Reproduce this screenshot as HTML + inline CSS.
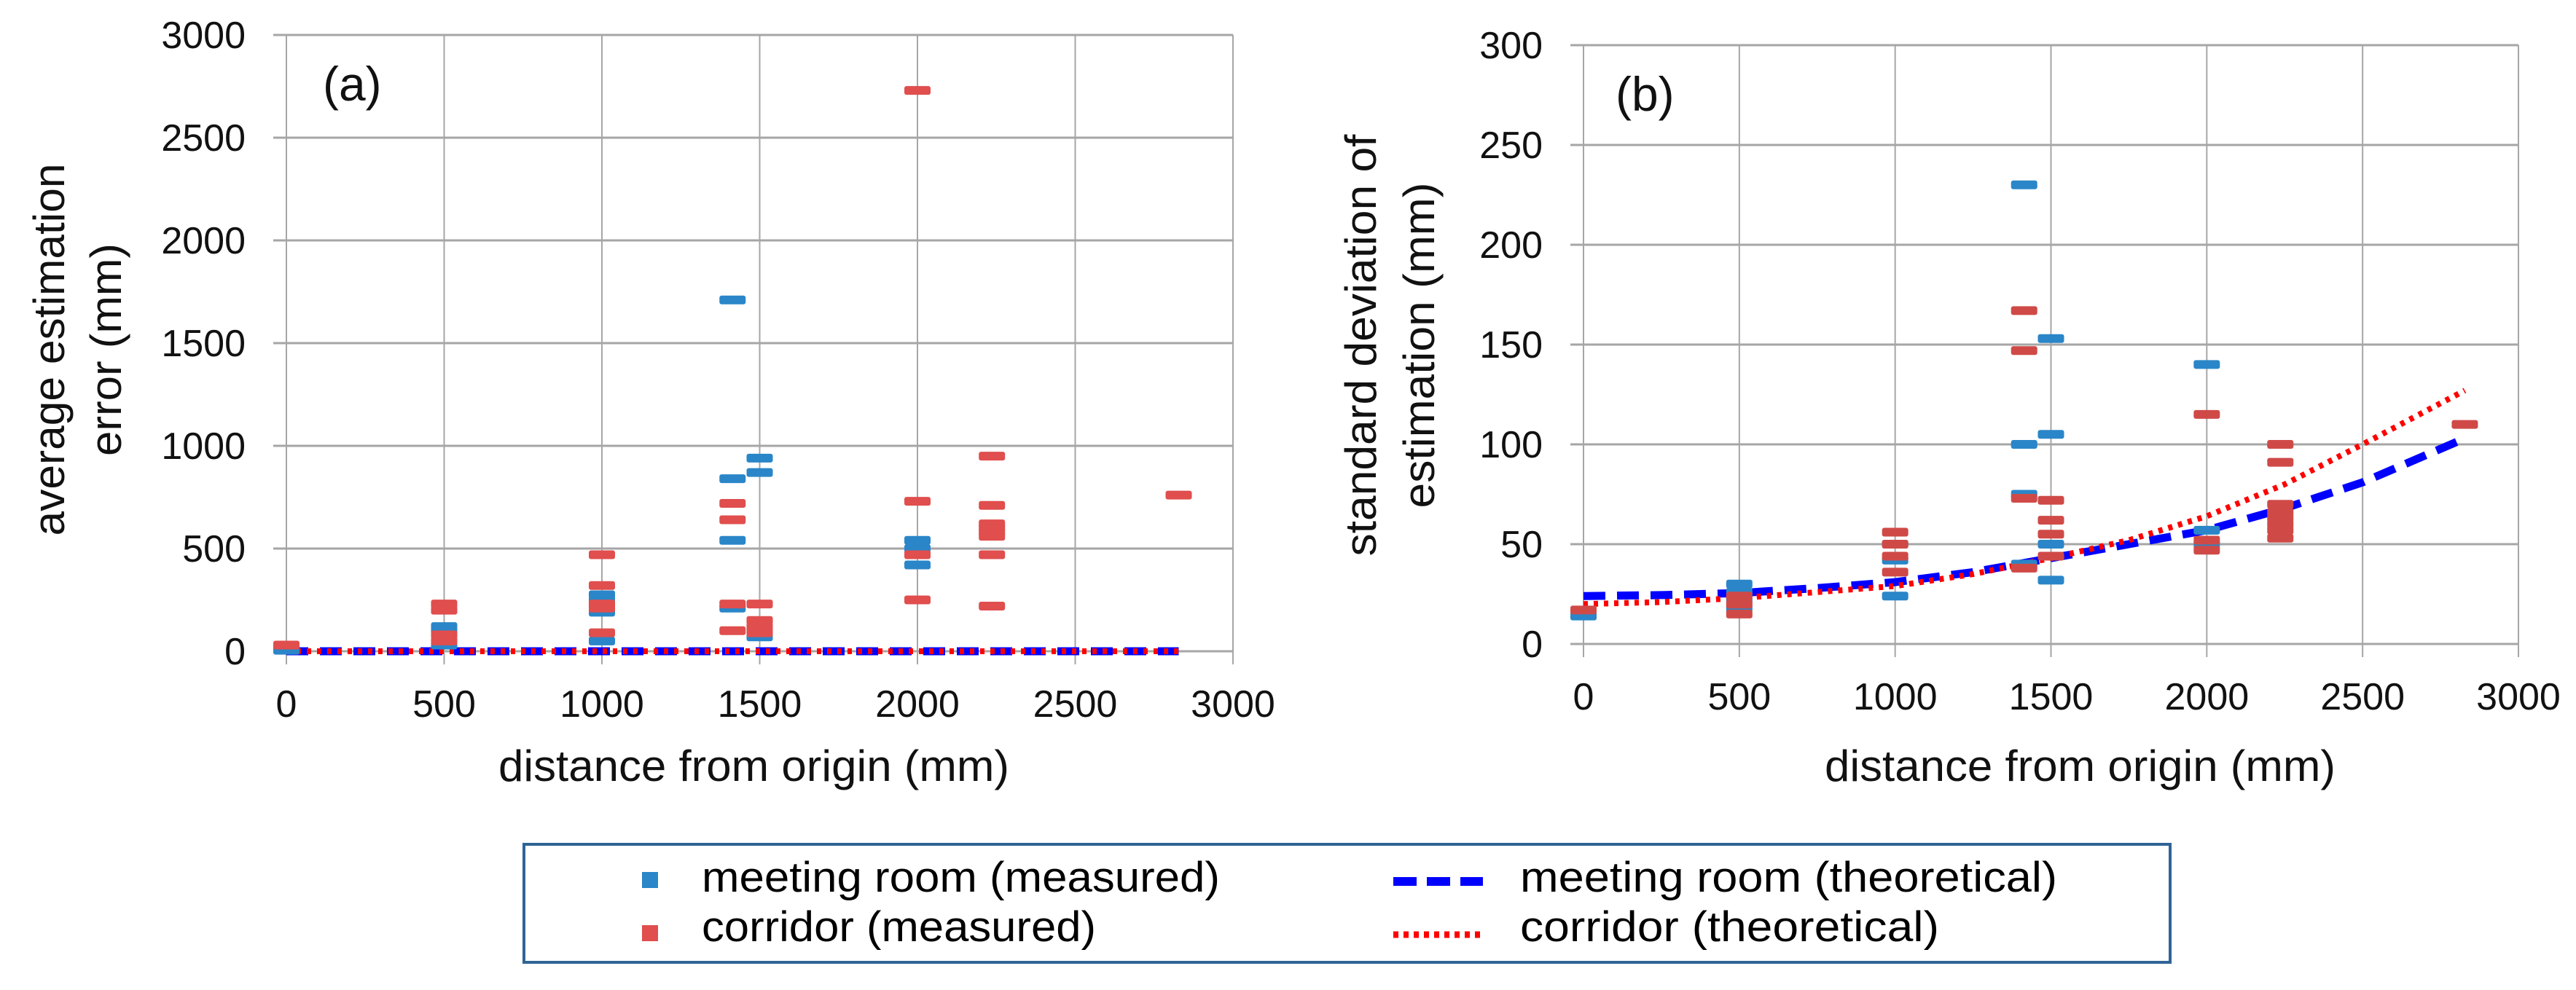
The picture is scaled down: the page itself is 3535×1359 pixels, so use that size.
<!DOCTYPE html>
<html><head><meta charset="utf-8"><style>
html,body{margin:0;padding:0;background:#fff;}
svg{display:block;font-family:"Liberation Sans",sans-serif;}
</style></head><body>
<svg id="fig" width="3535" height="1359" viewBox="0 0 3535 1359" xmlns="http://www.w3.org/2000/svg">
<rect x="0" y="0" width="3535" height="1359" fill="#fff"/>
<g id="chartA"></g>
<g id="chartB"></g>
<g id="legend">
  <rect x="719" y="1159" width="2259" height="162" fill="#fff" stroke="#2f6496" stroke-width="4"/>
  <rect x="881" y="1197" width="22" height="22" fill="#2a86c8"/>
  <text x="963" y="1224" font-size="58" textLength="711" lengthAdjust="spacingAndGlyphs">meeting room (measured)</text>
  <rect x="881" y="1270" width="22" height="22" fill="#e04e4e"/>
  <text x="963" y="1292" font-size="58" textLength="541" lengthAdjust="spacingAndGlyphs">corridor (measured)</text>
  <line x1="1912" y1="1210" x2="2035" y2="1210" stroke="#0000ff" stroke-width="12" stroke-dasharray="32,14"/>
  <text x="2086" y="1224" font-size="58" textLength="737" lengthAdjust="spacingAndGlyphs">meeting room (theoretical)</text>
  <line x1="1912" y1="1283" x2="2035" y2="1283" stroke="#ff0000" stroke-width="9" stroke-dasharray="7,7"/>
  <text x="2086" y="1292" font-size="58" textLength="575" lengthAdjust="spacingAndGlyphs">corridor (theoretical)</text>
</g>
</svg>
<script>
// ---------- shared ----------
const xTicks = [0, 500, 1000, 1500, 2000, 2500, 3000];

// ---------- chart (a) data ----------
const aYTicks = [0, 500, 1000, 1500, 2000, 2500, 3000];
const aMeetX = [0, 500, 500, 500, 1000, 1000, 1000, 1000, 1414, 1414, 1414, 1414, 1500, 1500, 1500, 1500, 2000, 2000, 2000];
const aMeetY = [5, 120, 95, 30, 275, 245, 190, 50, 1710, 840, 540, 210, 940, 870, 100, 70, 540, 500, 420];
const aCorrX = [0, 500, 500, 500, 500, 1000, 1000, 1000, 1000, 1000, 1414, 1414, 1414, 1414, 1500, 1500, 1500, 1500, 2000, 2000, 2000, 2000, 2236, 2236, 2236, 2236, 2236, 2236, 2236, 2236, 2828];
const aCorrY = [30, 230, 200, 80, 50, 470, 320, 230, 210, 90, 720, 640, 230, 100, 230, 150, 120, 90, 2730, 730, 470, 250, 950, 710, 620, 600, 580, 560, 470, 220, 760];
const aTheoX = [0, 500, 1000, 1500, 2000, 2500, 2828];
const aTheoMeet = [0, 0, 0, 0, 0, 0, 0];
const aTheoCorr = [0, 0, 0, 0, 0, 0, 0];

// ---------- chart (b) data ----------
const bYTicks = [0, 50, 100, 150, 200, 250, 300];
const bMeetX = [0, 500, 500, 500, 500, 1000, 1000, 1000, 1414, 1414, 1414, 1414, 1500, 1500, 1500, 1500, 2000, 2000, 2000];
const bMeetY = [14, 30, 26, 22, 18, 50, 42, 24, 230, 100, 75, 40, 153, 105, 50, 32, 140, 57, 50];
const bCorrX = [0, 500, 500, 500, 1000, 1000, 1000, 1000, 1414, 1414, 1414, 1414, 1500, 1500, 1500, 1500, 2000, 2000, 2000, 2236, 2236, 2236, 2236, 2236, 2236, 2236, 2236, 2828];
const bCorrY = [17, 24, 20, 15, 56, 50, 44, 36, 167, 147, 73, 38, 72, 62, 55, 44, 115, 52, 47, 100, 91, 70, 66, 63, 60, 57, 53, 110];
const bTheoX = [0, 250, 500, 750, 1000, 1250, 1500, 1750, 2000, 2250, 2500, 2828];
const bTheoMeet = [24, 24.5, 25.5, 28, 31, 36, 43, 50, 57, 68, 81, 103];
const bTheoCorr = [20, 21, 23, 26, 29, 35, 43, 52, 64, 80, 100, 127];

const NS = 'http://www.w3.org/2000/svg';
function mk(tag, attrs, parent) {
  const e = document.createElementNS(NS, tag);
  for (const k in attrs) e.setAttribute(k, attrs[k]);
  parent.appendChild(e);
  return e;
}

function drawChart(g, cfg) {
  const sx = v => cfg.left + (v - 0) / 3000 * (cfg.right - cfg.left);
  const sy = v => cfg.bottom - v / cfg.ymax * (cfg.bottom - cfg.top);
  cfg.yTicks.forEach(t => {
    const gl = mk('line', {x1: cfg.left - 18, x2: cfg.right, y1: sy(t), y2: sy(t), stroke: '#a6a6a6', 'stroke-width': 3}, g);
    
    
    const tl = mk('text', {x: cfg.left - 56, y: sy(t) + 18, 'font-size': 52, 'text-anchor': 'end', fill: '#111'}, g);
    tl.textContent = String(t);
    
    
  });
  xTicks.forEach(t => {
    const gl = mk('line', {x1: sx(t), x2: sx(t), y1: cfg.top, y2: cfg.bottom + 18, stroke: '#a6a6a6', 'stroke-width': 2}, g);
    
    
    const tl = mk('text', {x: sx(t), y: cfg.bottom + 90, 'font-size': 52, 'text-anchor': 'middle', fill: '#111'}, g);
    tl.textContent = String(t);
    
    
  });
  const pts = (xs, ys) => xs.map((x, i) => sx(x).toFixed(1) + ',' + sy(ys[i]).toFixed(1)).join(' ');
  const lm = mk('polyline', {points: pts(cfg.theoX, cfg.theoMeet), fill: 'none', stroke: '#0000ff', 'stroke-width': 11, 'stroke-dasharray': '30,16'}, g);
  
  
  const lc = mk('polyline', {points: pts(cfg.theoX, cfg.theoCorr), fill: 'none', stroke: '#ff0000', 'stroke-width': 8, 'stroke-dasharray': '6,8'}, g);
  
  
  const drawMarks = (xs, ys, color, name) => {
    xs.forEach((x, i) => {
      const r = mk('rect', {x: sx(x) - 18, y: sy(ys[i]) - 6, width: 36, height: 12, rx: 3, fill: color}, g);
      
      
    });
  };
  drawMarks(cfg.meetX, cfg.meetY, '#2a86c8', 'meeting-room-measured-point');
  drawMarks(cfg.corrX, cfg.corrY, cfg.corrColor, 'corridor-measured-point');
  const pl = mk('text', {x: cfg.left + cfg.labelDx, y: cfg.top + 90, 'font-size': 66, fill: '#111'}, g);
  pl.textContent = cfg.label;
  
  
  const xt = mk('text', {x: (cfg.left + cfg.right) / 2 + cfg.xTitleDx, y: 1072, 'font-size': 60, 'text-anchor': 'middle', fill: '#111', textLength: 701, lengthAdjust: 'spacingAndGlyphs'}, g);
  xt.textContent = 'distance from origin (mm)';
  
  
  cfg.yTitle.forEach((line, i) => {
    const t = mk('text', {x: 0, y: 0, 'font-size': 60, 'text-anchor': 'middle', fill: '#111', transform: 'translate(' + cfg.yTitleX[i] + ',' + cfg.yTitleY + ') rotate(-90)', textLength: cfg.yTitleLen[i], lengthAdjust: 'spacingAndGlyphs'}, g);
    t.textContent = line;
    
    
  });
}

drawChart(document.getElementById('chartA'), {
  left: 393, right: 1692, top: 48, bottom: 894, ymax: 3000,
  yTicks: aYTicks, meetX: aMeetX, meetY: aMeetY, corrX: aCorrX, corrY: aCorrY,
  theoX: aTheoX, theoMeet: aTheoMeet, theoCorr: aTheoCorr, corrColor: '#e04e4e',
  label: '(a)', labelDx: 50, xTitleDx: -8,
  yTitle: ['average estimation', 'error (mm)'], yTitleX: [88, 166], yTitleY: 480, yTitleLen: [511, 292]
});
drawChart(document.getElementById('chartB'), {
  left: 2173, right: 3456, top: 62, bottom: 884, ymax: 300,
  yTicks: bYTicks, meetX: bMeetX, meetY: bMeetY, corrX: bCorrX, corrY: bCorrY,
  theoX: bTheoX, theoMeet: bTheoMeet, theoCorr: bTheoCorr, corrColor: '#cf4a47',
  label: '(b)', labelDx: 44, xTitleDx: 40,
  yTitle: ['standard deviation of', 'estimation (mm)'], yTitleX: [1888, 1968], yTitleY: 474, yTitleLen: [579, 447]
});
</script>
</body></html>
